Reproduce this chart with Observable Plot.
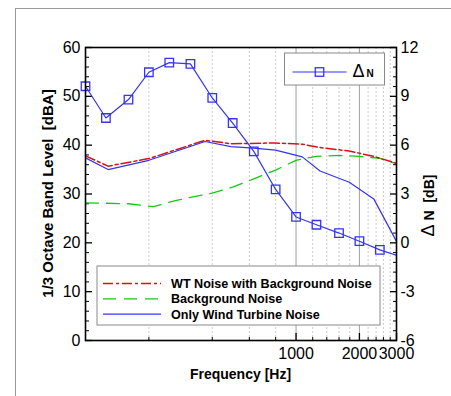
<!DOCTYPE html>
<html><head><meta charset="utf-8">
<script src="https://cdn.jsdelivr.net/npm/d3@7"></script>
<script src="https://cdn.jsdelivr.net/npm/@observablehq/plot@0.6"></script>
<style>
body{margin:0;background:#fff;}
#wrap{position:relative;width:451px;height:396px;overflow:hidden;font-family:"Liberation Sans",Arial,sans-serif;}
#wrap svg{position:absolute;left:0;top:0;}
#border{position:absolute;left:15px;top:8px;right:-5px;bottom:-5px;border-top:1px solid #9a9a9a;border-left:1px solid #9a9a9a;pointer-events:none;}
</style></head><body><div id="wrap"></div>
<script>
// ΔN (right axis, dB) at 1/3-octave centre frequencies
const dnFreq  = [100, 125, 160, 200, 250, 315, 400, 500, 630, 800, 1000, 1250, 1600, 2000, 2500, 3150];
const dnValue = [9.62, 7.67, 8.80, 10.48, 11.07, 10.99, 8.90, 7.36, 5.62, 3.28, 1.59, 1.11, 0.60, 0.10, -0.43, -0.86];
// WT noise with background noise (left axis, dBA)
const wtbgFreq  = [100, 128, 200, 370, 490, 800, 1070, 1300, 1790, 2340, 3000];
const wtbgLevel = [37.8, 35.7, 37.25, 41.0, 40.3, 40.45, 40.2, 39.5, 38.8, 37.7, 36.3];
// Background noise
const bgFreq  = [100, 160, 210, 270, 400, 500, 630, 800, 1000, 1250, 1600, 2000, 2500, 3000];
const bgLevel = [28.2, 28.0, 27.4, 28.7, 30.2, 31.4, 33.1, 34.9, 36.9, 37.7, 37.9, 37.7, 37.3, 36.2];
// Only wind turbine noise
const wtFreq  = [100, 128, 200, 370, 490, 630, 800, 1070, 1300, 1790, 2340, 3000];
const wtLevel = [37.4, 35.0, 36.9, 40.75, 39.7, 39.4, 39.0, 37.6, 34.7, 32.4, 29.0, 20.3];
// ticks and grid
const levelTicks = [0, 10, 20, 30, 40, 50, 60];
const dnTicks = [-6, -3, 0, 3, 6, 9, 12];
const freqTicks = [1000, 2000, 3000];
const minorGrid = [200, 400, 600, 800, 1200, 1400, 1600, 1800, 2200, 2400, 2600, 2800];
const majorGrid = [1000, 2000];
const seriesNames = ["WT Noise with Background Noise", "Background Noise", "Only Wind Turbine Noise"];
const dnName = "N";

const BLUE = "#3434f2", RED = "#d41414", GREEN = "#14c814";
// map ΔN (-6..12) onto the level scale (0..60)
const toLevel = dn => (dn + 6) * 60 / 18;
const toDn = lv => String(Math.round(lv * 18 / 60 - 6));

const minorY = d3.range(0, 61, 2).filter(d => d % 10 !== 0);
const dnRows = dnFreq.map((f, i) => ({f, dn: dnValue[i]}));

const chart = Plot.plot({
  width: 451, height: 396,
  marginLeft: 85, marginRight: 55, marginTop: 47, marginBottom: 56,
  style: {fontFamily: "'Liberation Sans', Arial, sans-serif", background: "transparent", color: "#000"},
  x: {type: "log", domain: [100, 3000]},
  y: {domain: [0, 60]},
  marks: [
    Plot.ruleX(minorGrid, {stroke: "#c4c4c4", strokeDasharray: "2,2", strokeWidth: 0.9}),
    Plot.ruleX(majorGrid, {stroke: "#a8a8a8", strokeWidth: 1.1}),
    Plot.axisY(minorY, {anchor: "left", tickSize: -4, tickFormat: () => "", label: null, strokeWidth: 1}),
    Plot.axisY(minorY, {anchor: "right", tickSize: -4, tickFormat: () => "", label: null, strokeWidth: 1}),
    Plot.axisX(minorGrid, {anchor: "bottom", tickSize: -3, tickFormat: () => "", label: null}),
    Plot.axisY(levelTicks, {anchor: "left", tickSize: -7, tickPadding: 12, fontSize: 16, label: null, tickFormat: d => String(d), strokeWidth: 1.3}),
    Plot.axisY(dnTicks.map(toLevel), {anchor: "right", tickSize: -7, tickPadding: 11, fontSize: 16, label: null, tickFormat: toDn, strokeWidth: 1.3}),
    Plot.axisX(freqTicks, {anchor: "bottom", tickSize: -7, tickPadding: 14, fontSize: 16, label: null, tickFormat: d => String(d), strokeWidth: 1.3}),
    Plot.line(bgFreq, {x: bgFreq, y: bgLevel, stroke: GREEN, strokeWidth: 1.3, strokeDasharray: "13,8"}),
    Plot.line(wtbgFreq, {x: wtbgFreq, y: wtbgLevel, stroke: RED, strokeWidth: 1.5, strokeDasharray: "10,3,3,3"}),
    Plot.line(wtFreq, {x: wtFreq, y: wtLevel, stroke: BLUE, strokeWidth: 1.2}),
    Plot.line(dnRows, {x: "f", y: d => toLevel(d.dn), stroke: BLUE, strokeWidth: 1.2, clip: true}),
    Plot.dot(dnRows.filter(d => d.f <= 3000), {x: "f", y: d => toLevel(d.dn), symbol: "square", r: 4.8, stroke: BLUE, strokeWidth: 1.3, fill: "none"}),
    Plot.frame({stroke: "#000", strokeWidth: 1.6})
  ]
});

document.getElementById("wrap").appendChild(chart);
const b = document.createElement("div"); b.id = "border";
document.getElementById("wrap").appendChild(b);

// axis titles and in-plot legends
const svg = d3.select(chart);
const xs = chart.scale("x"), ys = chart.scale("y");
const [fx0, fx1] = xs.range, [fy0, fy1] = ys.range; // fy0 bottom, fy1 top
const FONT = "'Liberation Sans', Arial, sans-serif";
const g = svg.append("g").attr("font-family", FONT).attr("fill", "#000").attr("text-anchor", "start");

g.append("text").attr("transform", `translate(${fx0 - 32.5},${(fy0 + fy1) / 2}) rotate(-90)`)
  .attr("text-anchor", "middle").attr("font-weight", "bold").attr("font-size", 15)
  .text("1/3 Octave Band Level  [dBA]");
g.append("text").attr("x", (fx0 + fx1) / 2).attr("y", fy0 + 38.5)
  .attr("text-anchor", "middle").attr("font-weight", "bold").attr("font-size", 14)
  .text("Frequency [Hz]");
const rt = g.append("text").attr("transform", `translate(${fx1 + 37.5},${(fy0 + fy1) / 2 + 12}) rotate(-90)`)
  .attr("text-anchor", "middle");
rt.append("tspan").attr("font-size", 18).text("Δ");
rt.append("tspan").attr("font-size", 14).attr("font-weight", "bold").text(" N  [dB]");

// legend 1 (ΔN)
const L1 = {x: fx1 - 111.5, y: fy1 + 6, w: 100, h: 32};
g.append("rect").attr("x", L1.x).attr("y", L1.y).attr("width", L1.w).attr("height", L1.h)
  .attr("fill", "#fff").attr("stroke", "#8a8a8a").attr("stroke-width", 1);
g.append("line").attr("x1", L1.x + 8).attr("x2", L1.x + 62).attr("y1", L1.y + 19).attr("y2", L1.y + 19)
  .attr("stroke", BLUE).attr("stroke-width", 1.2);
g.append("rect").attr("x", L1.x + 35 - 4.25).attr("y", L1.y + 19 - 4.25).attr("width", 8.5).attr("height", 8.5)
  .attr("fill", "none").attr("stroke", BLUE).attr("stroke-width", 1.3);
const lt = g.append("text").attr("x", L1.x + 68).attr("y", L1.y + 24).attr("text-anchor", "start");
lt.append("tspan").attr("font-size", 18).text("Δ");
lt.append("tspan").attr("font-size", 10).attr("font-weight", "bold").attr("dx", 2).text(dnName);

// legend 2 (levels)
const L2 = {x: fx0 + 12, y: fy0 - 74, w: 283, h: 59};
g.append("rect").attr("x", L2.x).attr("y", L2.y).attr("width", L2.w).attr("height", L2.h)
  .attr("fill", "#fff").attr("stroke", "#8a8a8a").attr("stroke-width", 1);
const styles = [
  {stroke: RED, dash: "10,3,3,3", w: 1.5},
  {stroke: GREEN, dash: "13,8", w: 1.3},
  {stroke: BLUE, dash: null, w: 1.2}
];
seriesNames.forEach((name, i) => {
  const cy = L2.y + 17.5 + i * 15.3;
  g.append("line").attr("x1", L2.x + 6).attr("x2", L2.x + 64).attr("y1", cy).attr("y2", cy)
    .attr("stroke", styles[i].stroke).attr("stroke-width", styles[i].w)
    .attr("stroke-dasharray", styles[i].dash);
  g.append("text").attr("x", L2.x + 74).attr("y", cy + 4.5).attr("font-size", 12.6)
    .attr("text-anchor", "start").attr("font-weight", "bold").text(name);
});
</script></body></html>
